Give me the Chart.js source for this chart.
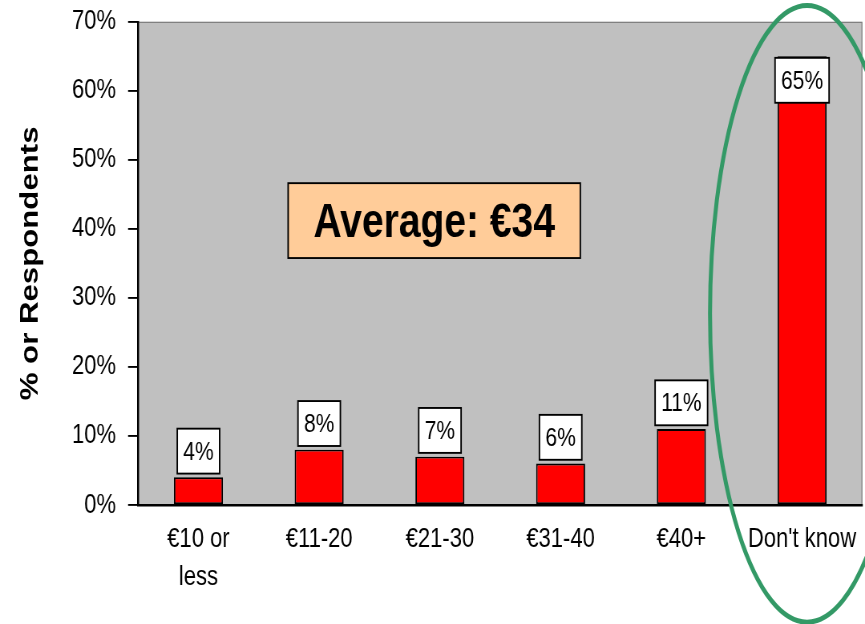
<!DOCTYPE html>
<html>
<head>
<meta charset="utf-8">
<script src="https://cdn.jsdelivr.net/npm/chart.js@4.4.1/dist/chart.umd.min.js"></script>
<style>
  html { margin: 0; padding: 0; background: #fff; overflow: hidden; }
  body { margin: 0; padding: 0; background: #fff; width: 865px; height: 624px; }
  /* the original slide is stretched vertically, so draw at 500px high and scale up */
  #wrap { position: relative; width: 865px; height: 500px; transform: scaleY(1.248); transform-origin: 0 0; }
</style>
</head>
<body>
<div id="wrap"><canvas id="spendChart"></canvas></div>
<script>
// Dados do gráfico
const categories = [['€10 or', 'less'], '€11-20', '€21-30', '€31-40', '€40+', "Don't know"];
const respondents = [4, 8, 7, 6, 11, 65];
const yTickValues = [0, 10, 20, 30, 40, 50, 60, 70];
const averageText = 'Average: €34';
const axisTitle = '% or Respondents';

const FONT = "Arial, 'Liberation Sans', sans-serif";

// fundo cinza da área do gráfico
const plotBackground = {
    id: 'plotBackground',
    beforeDraw(chart) {
        const { ctx, chartArea: a } = chart;
        ctx.save();
        ctx.fillStyle = '#c0c0c0';
        ctx.fillRect(a.left, a.top, a.right - a.left, a.bottom - a.top);
        ctx.strokeStyle = '#808080';
        ctx.lineWidth = 1;
        ctx.beginPath();
        ctx.moveTo(a.left, a.top + 0.5);
        ctx.lineTo(a.right - 0.5, a.top + 0.5);
        ctx.lineTo(a.right - 0.5, a.bottom);
        ctx.stroke();
        ctx.restore();
    }
};

// caixas brancas com os valores + caixa da média
const valueBoxes = {
    id: 'valueBoxes',
    afterDatasetsDraw(chart) {
        const { ctx, chartArea: a, scales } = chart;
        const meta = chart.getDatasetMeta(0);
        ctx.save();
        ctx.font = '21px ' + FONT;
        ctx.textAlign = 'center';
        ctx.textBaseline = 'middle';
        meta.data.forEach(function(bar, i) {
            const txt = respondents[i] + '%';
            const w = ctx.measureText(txt).width + 12;
            const h = 36;
            let top = bar.y - 3 - h;
            if (top < a.top) top = bar.y + 1.2;
            ctx.fillStyle = '#fff';
            ctx.fillRect(bar.x - w / 2, top, w, h);
            ctx.strokeStyle = '#000';
            ctx.lineWidth = 1.5;
            ctx.strokeRect(bar.x - w / 2, top, w, h);
            ctx.fillStyle = '#000';
            ctx.fillText(txt, bar.x, top + h / 2 + 1);
        });

        // Average box
        const cx = scales.x.getPixelForValue(1.953);
        const cy = scales.y.getPixelForValue(41.2);
        const bw = 292, bh = 60;
        ctx.fillStyle = '#ffcc99';
        ctx.fillRect(cx - bw / 2, cy - bh / 2, bw, bh);
        ctx.strokeStyle = '#000';
        ctx.lineWidth = 1.5;
        ctx.strokeRect(cx - bw / 2, cy - bh / 2, bw, bh);
        ctx.fillStyle = '#000';
        ctx.font = 'bold 39px ' + FONT;
        ctx.fillText(averageText, cx, cy + 2);
        ctx.restore();
    },
    afterDraw(chart) {
        // elipse verde em volta de "Don't know"
        const { ctx, scales } = chart;
        const cx = scales.x.getPixelForValue(5) + 5;
        ctx.save();
        ctx.strokeStyle = '#339966';
        ctx.lineWidth = 4;
        ctx.beginPath();
        ctx.ellipse(cx, 251.5, 97, 247, 0, 0, Math.PI * 2);
        ctx.stroke();
        ctx.restore();
    }
};

new Chart(document.getElementById('spendChart').getContext('2d'), {
    type: 'bar',
    data: {
        labels: categories,
        datasets: [{
            data: respondents,
            backgroundColor: '#ff0000',
            borderColor: '#000',
            borderWidth: 1.5,
            borderSkipped: false,
            barPercentage: 0.406,
            categoryPercentage: 1
        }]
    },
    options: {
        responsive: true,
        maintainAspectRatio: false,
        devicePixelRatio: 1.248,
        animation: false,
        layout: { padding: { top: 0, right: 3, left: 0, bottom: 0 } },
        plugins: {
            legend: { display: false },
            tooltip: { enabled: false }
        },
        scales: {
            x: {
                grid: { display: false },
                border: { display: true, color: '#000', width: 2 },
                ticks: {
                    color: '#000',
                    font: { family: FONT, size: 22, lineHeight: 1.37 },
                    padding: 4.5,
                    maxRotation: 0,
                    autoSkip: false
                },
                afterFit: function(s) { s.height = 95.4; }
            },
            y: {
                min: 0,
                max: 70,
                afterBuildTicks: function(s) {
                    s.ticks = yTickValues.map(function(v) { return { value: v }; });
                },
                grid: {
                    display: true,
                    drawOnChartArea: false,
                    drawTicks: true,
                    tickLength: 10,
                    color: '#000',
                    lineWidth: 1.5
                },
                border: { display: true, color: '#000', width: 2 },
                ticks: {
                    color: '#000',
                    // lineHeight pequeno só para reduzir o espaço acima do 70%
                    font: { family: FONT, size: 22, lineHeight: 0.5 },
                    padding: 12,
                    callback: function(v) { return v + '%'; }
                },
                title: {
                    display: true,
                    text: axisTitle,
                    color: '#000',
                    font: { family: FONT, size: 25, weight: 'bold' },
                    padding: { top: 16, bottom: 0 }
                },
                afterFit: function(s) { s.width = 138; }
            }
        }
    },
    plugins: [plotBackground, valueBoxes]
});
</script>
</body>
</html>
